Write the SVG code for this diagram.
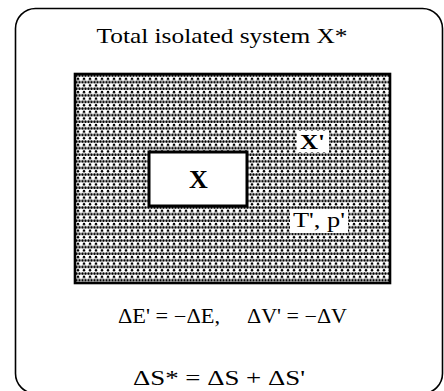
<svg xmlns="http://www.w3.org/2000/svg" width="444" height="391" viewBox="0 0 444 391">
<style>
.t{font-family:"Liberation Serif","Times New Roman",serif;fill:#000}
.line{fill:none;stroke:#000}
</style>
<defs>
<pattern id="dots" x="75" y="74" width="6" height="6.6" patternUnits="userSpaceOnUse">
<rect width="6" height="6.6" fill="#fff"/>
<circle cx="1.5" cy="1.6" r="1.25" fill="#000"/>
<circle cx="4.5" cy="1.6" r="1.25" fill="#000"/>
<circle cx="3" cy="4.9" r="1.25" fill="#000"/>
</pattern>
</defs>
<rect width="444" height="391" fill="#fff"/>
<g id="total-system">
<rect class="line" x="15.5" y="8.5" width="427" height="385" rx="20" ry="20" stroke-width="1.6"/>
<text class="t" x="222" y="43" font-size="21" text-anchor="middle" textLength="251" lengthAdjust="spacingAndGlyphs">Total isolated system X*</text>
</g>
<g id="reservoir">
<rect x="75" y="74" width="315" height="209" fill="url(#dots)" stroke="#000" stroke-width="2.6"/>
<rect x="297" y="131" width="32" height="21" fill="#fff"/>
<text class="t" x="300" y="149" font-size="22" font-weight="bold" textLength="25" lengthAdjust="spacingAndGlyphs">X'</text>
<rect x="290" y="209" width="58" height="24" fill="#fff"/>
<text class="t" x="293" y="227" font-size="20" textLength="52" lengthAdjust="spacingAndGlyphs">T', p'</text>
</g>
<g id="system">
<rect x="149" y="152" width="98" height="54" fill="#fff" stroke="#000" stroke-width="3"/>
<text class="t" x="198.5" y="188" font-size="26" font-weight="bold" text-anchor="middle">X</text>
</g>
<g id="equations">
<text class="t" x="118" y="323" font-size="20" textLength="102" lengthAdjust="spacingAndGlyphs">ΔE' = −ΔE,</text>
<text class="t" x="247" y="323" font-size="20" textLength="100" lengthAdjust="spacingAndGlyphs">ΔV' = −ΔV</text>
<text class="t" x="133" y="385" font-size="20" textLength="172" lengthAdjust="spacingAndGlyphs">ΔS* = ΔS + ΔS'</text>
</g>
<g id="connectors"></g>
</svg>
